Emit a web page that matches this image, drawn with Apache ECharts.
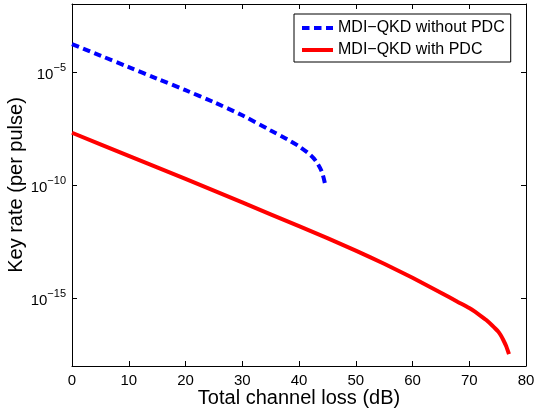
<!DOCTYPE html>
<html>
<head>
<meta charset="utf-8">
<script src="https://cdn.jsdelivr.net/npm/echarts@6/dist/echarts.min.js"></script>
<style>
html,body{margin:0;padding:0;background:#fff;}
#c{width:535px;height:416px;}
</style>
</head>
<body>
<div id="c"></div>
<script>
// Total channel loss (dB) and log10 of key rate
const lossWithout = [0, 5, 10, 15, 20, 25, 30, 35, 38, 40, 42, 43, 44, 44.6];
const logRateWithout = [-3.77, -4.28, -4.79, -5.30, -5.81, -6.34, -6.92, -7.59, -7.99, -8.29, -8.67, -8.95, -9.40, -9.96];
const lossWith = [0, 10, 20, 30, 40, 45, 50, 55, 60, 65, 68, 70, 71, 72, 73, 74, 75, 75.5, 76, 76.5, 77];
const logRateWith = [-7.69, -8.71, -9.73, -10.77, -11.82, -12.35, -12.9, -13.48, -14.1, -14.76, -15.17, -15.44, -15.6, -15.78, -15.97, -16.2, -16.45, -16.62, -16.85, -17.12, -17.48];
const xTicks = [0, 10, 20, 30, 40, 50, 60, 70, 80];
const yTickExps = [-15, -10, -5];
const seriesNames = ['MDI\u2212QKD without PDC', 'MDI\u2212QKD with PDC'];

const toPairs = (xs, ls) => xs.map((x, i) => [x, Math.pow(10, ls[i])]);
const yTickVals = yTickExps.map(e => Math.pow(10, e));
const font = '"Liberation Sans", Arial, Helvetica, sans-serif';

const chart = echarts.init(document.getElementById('c'), null, {renderer: 'canvas'});
const baseX = {
  type: 'value', min: xTicks[0], max: xTicks[xTicks.length - 1], interval: 10,
  axisLine: {show: true, onZero: false, lineStyle: {color: '#000', width: 1}},
  axisTick: {show: true, inside: true, length: 5, lineStyle: {color: '#000'}},
  splitLine: {show: false}
};
const baseY = {
  type: 'log', logBase: 10, min: 1e-18, max: 1e-2,
  axisLine: {show: true, onZero: false, lineStyle: {color: '#000', width: 1}},
  axisTick: {show: true, inside: true, length: 5, customValues: yTickVals, lineStyle: {color: '#000'}},
  minorTick: {show: false},
  splitLine: {show: false}
};
chart.setOption({
  animation: false,
  backgroundColor: '#fff',
  grid: {left: 72, right: 9, top: 4, bottom: 50, containLabel: false, outerBoundsMode: 'none'},
  xAxis: [
    Object.assign({}, baseX, {
      position: 'bottom',
      name: 'Total channel loss (dB)', nameLocation: 'middle', nameGap: 22,
      nameMoveOverlap: false,
      nameTextStyle: {fontFamily: font, fontSize: 20, color: '#000'},
      axisLabel: {show: true, fontFamily: font, fontSize: 15, color: '#000', margin: 7, formatter: v => String(v)}
    }),
    Object.assign({}, baseX, {position: 'top', axisLabel: {show: false}})
  ],
  yAxis: [
    Object.assign({}, baseY, {
      position: 'left',
      name: 'Key rate (per pulse)', nameLocation: 'middle', nameGap: 46, nameRotate: 90,
      nameMoveOverlap: false,
      nameTextStyle: {fontFamily: font, fontSize: 20, color: '#000'},
      axisLabel: {
        show: true, customValues: yTickVals, margin: 6,
        formatter: v => '{b|10}{s|\u2212' + Math.abs(Math.round(Math.log10(v))) + '}',
        rich: {
          b: {fontFamily: font, fontSize: 15, color: '#000', padding: [6, 0, 0, 0]},
          s: {fontFamily: font, fontSize: 11, color: '#000', padding: [0, 0, 8, 0]}
        }
      }
    }),
    Object.assign({}, baseY, {position: 'right', axisLabel: {show: false}})
  ],
  legend: {
    show: true, orient: 'vertical', left: 294, top: 14,
    padding: [6, 6, 4, 6],
    itemGap: 6,
    itemWidth: 31, itemHeight: 16,
    borderColor: '#000', borderWidth: 1, borderRadius: 0, backgroundColor: '#fff',
    itemStyle: {opacity: 0},
    lineStyle: {width: 4},
    textStyle: {fontFamily: font, fontSize: 16, color: '#000'},
    data: seriesNames
  },
  series: [
    {
      name: seriesNames[0], type: 'line', xAxisIndex: 0, yAxisIndex: 0,
      data: toPairs(lossWithout, logRateWithout),
      showSymbol: false, symbol: 'none', smooth: 0.3,
      lineStyle: {color: '#0000ff', width: 4, type: [7.5, 4.5], cap: 'butt'},
      itemStyle: {color: '#0000ff'}
    },
    {
      name: seriesNames[1], type: 'line', xAxisIndex: 0, yAxisIndex: 0,
      data: toPairs(lossWith, logRateWith),
      showSymbol: false, symbol: 'none', smooth: 0.2,
      lineStyle: {color: '#ff0000', width: 4},
      itemStyle: {color: '#ff0000'}
    }
  ]
});
</script>
</body>
</html>
